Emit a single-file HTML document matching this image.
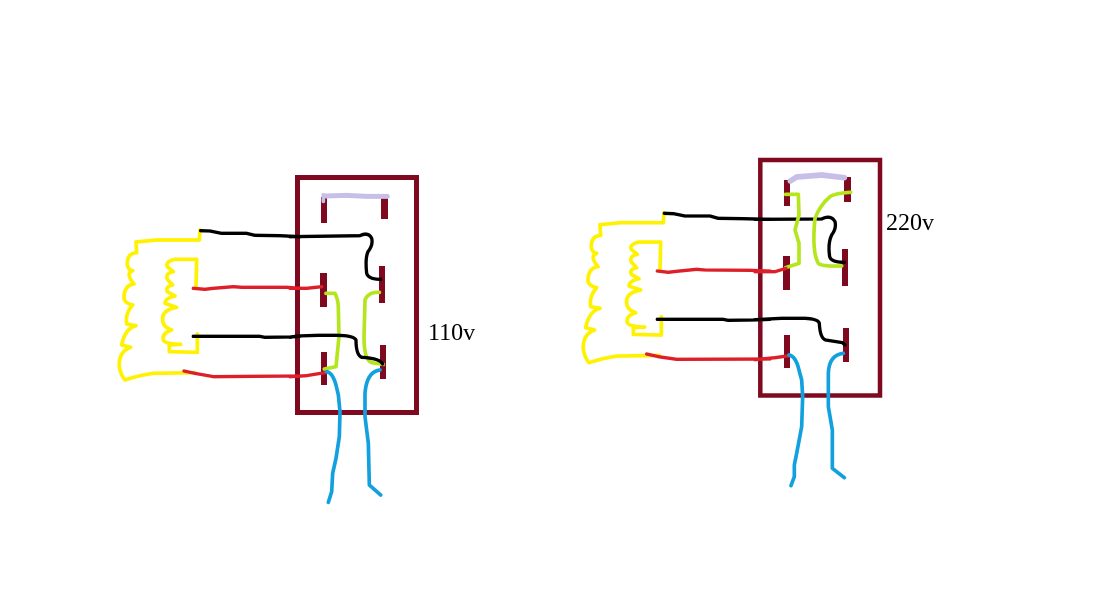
<!DOCTYPE html>
<html>
<head>
<meta charset="utf-8">
<style>
html,body{margin:0;padding:0;background:#fff;width:1106px;height:607px;overflow:hidden}
svg{display:block}
polyline,path{fill:none;stroke-linejoin:round;stroke-linecap:round}
.k{stroke:#000;stroke-width:10}
.r{stroke:#dd1f2a;stroke-width:10}
.y{stroke:#fff200;stroke-width:11}
.l{stroke:#b5e61d;stroke-width:11}
.b{stroke:#12a0de;stroke-width:11}
.v{stroke:#c8bfe7}
text{font-family:"Liberation Serif",serif;font-size:24px;fill:#000}
</style>
</head>
<body>
<svg width="1106" height="607" viewBox="0 0 1106 607" xmlns="http://www.w3.org/2000/svg">
<rect width="1106" height="607" fill="#fff"/>

<!-- boxes -->
<rect x="297.5" y="177.5" width="119" height="235" fill="none" stroke="#7f0a20" stroke-width="5"/>
<rect x="760.3" y="160" width="119.7" height="235.5" fill="none" stroke="#7f0a20" stroke-width="4.5"/>

<!-- terminals -->
<g fill="#7f0a20">
<rect x="321" y="197" width="6" height="26"/>
<rect x="381" y="195" width="7" height="24"/>
<rect x="379" y="266" width="6" height="37"/>
<rect x="320" y="273" width="7" height="34"/>
<rect x="321" y="352" width="6" height="33"/>
<rect x="380" y="345" width="6" height="34"/>
<rect x="784" y="180" width="6" height="26"/>
<rect x="844" y="177" width="7" height="25"/>
<rect x="842" y="249" width="6" height="37"/>
<rect x="783" y="256" width="7" height="34"/>
<rect x="784" y="335" width="6" height="33"/>
<rect x="843" y="328" width="6" height="34"/>
</g>

<!-- left windings, diagram 1 -->
<g transform="translate(110 170) scale(.33333)">
<path class="y" d="M270 180 L268 210 L140 210 L78 216 L80 248 Q50 250 52 285 Q55 300 68 302 Q45 310 72 342 Q42 345 42 385 Q45 400 68 405 Q45 430 50 462 L78 467 Q45 475 35 525 L62 532 Q25 545 28 590 Q32 615 45 630 Q90 615 130 610 L255 608"/>
<path class="y" d="M258 355 L260 268 L195 268 Q165 275 172 290 L190 305 Q165 310 172 328 L188 345 Q165 350 172 365 L195 378 Q165 385 165 400 L200 412 Q155 420 158 450 Q158 470 185 480 Q155 490 160 510 Q165 522 212 523 L178 525 L178 545 L262 547 L262 492"/>
<polyline class="k" points="272,182 300,183 335,190 410,190 435,196 510,197 570,200"/>
<polyline class="k" points="250,499 450,499 465,502 540,501 570,499"/>
<polyline class="r" points="250,355 285,358 310,355 370,350 395,352 530,352 570,355"/>
<polyline class="r" points="222,603 255,610 310,620 570,618"/>
</g>

<!-- left windings, diagram 2 -->
<g transform="translate(574 152.7) scale(.33333)">
<path class="y" d="M270 180 L268 210 L140 210 L78 216 L80 248 Q50 250 52 285 Q55 300 68 302 Q45 310 72 342 Q42 345 42 385 Q45 400 68 405 Q45 430 50 462 L78 467 Q45 475 35 525 L62 532 Q25 545 28 590 Q32 615 45 630 Q90 615 130 610 L255 608"/>
<path class="y" d="M258 355 L260 268 L195 268 Q165 275 172 290 L190 305 Q165 310 172 328 L188 345 Q165 350 172 365 L195 378 Q165 385 165 400 L200 412 Q155 420 158 450 Q158 470 185 480 Q155 490 160 510 Q165 522 212 523 L178 525 L178 545 L262 547 L262 492"/>
</g>
<g transform="translate(570 200) scale(.33333)">
<polyline class="k" points="283,40 310,41 345,48 420,48 445,55 520,56 600,58"/>
<polyline class="k" points="262,358 460,358 475,361 550,360 600,358"/>
<polyline class="r" points="262,213 295,217 320,214 380,208 405,210 540,211 600,213"/>
<polyline class="r" points="230,462 265,470 320,478 600,477"/>
</g>

<!-- box 1 wiring -->
<g transform="translate(290 170) scale(.33333)">
<polyline class="v" style="stroke-width:15" points="104,78 170,76 230,79 292,79"/>
<polyline class="v" style="stroke-width:11" points="100,74 100,94"/>
<path class="k" d="M0 200 L210 197 Q235 185 245 205 Q250 225 234 245 Q225 265 230 310 Q235 328 272 328"/>
<path class="l" d="M108 370 L135 370 Q145 390 145 415 L147 500 L138 590 L103 597"/>
<path class="l" d="M268 367 Q235 365 225 390 L222 500 Q222 570 245 578 L280 583"/>
<path class="k" d="M0 502 L20 498 L85 496 L130 496 Q190 495 198 510 Q198 555 215 562 Q270 565 278 582"/>
<polyline class="r" points="0,355 50,355 95,350"/>
<polyline class="r" points="0,620 50,617 105,608"/>
</g>
<g transform="translate(310 360) scale(.33333)">
<path class="b" d="M50 35 Q68 38 78 75 L85 105 L90 155 L88 230 L78 295 L68 340 L65 395 L55 427"/>
<path class="b" d="M210 30 Q170 35 165 100 L165 170 L175 250 L178 375 L212 405"/>
</g>

<!-- box 2 wiring -->
<g transform="translate(755 155) scale(.33333)">
<polyline class="v" style="stroke-width:17" points="106,78 125,66 200,60 268,68"/>
<path class="k" d="M0 193 L200 192 Q228 178 240 200 Q245 220 230 240 Q218 265 224 305 Q228 322 268 322"/>
<polyline class="l" points="92,118 130,118 132,180 120,225 132,265 132,325 92,338"/>
<path class="l" d="M287 112 Q240 115 225 125 Q195 150 180 190 Q170 290 190 325 Q200 335 260 333"/>
<path class="k" d="M0 494 L80 490 L150 490 Q190 492 193 505 Q195 550 212 555 L262 563 L270 570"/>
<polyline class="r" points="0,350 60,350 93,340"/>
<polyline class="r" points="0,614 60,608 103,602"/>
</g>
<g transform="translate(775 340) scale(.33333)">
<path class="b" d="M42 45 Q62 48 72 90 L80 120 L83 170 L80 260 L65 340 L58 375 L58 410 L48 437"/>
<path class="b" d="M205 40 Q162 45 160 100 L160 200 L172 270 L172 385 L208 413"/>
</g>

<text x="428" y="340">110v</text>
<text x="886" y="230">220v</text>
</svg>
</body>
</html>
